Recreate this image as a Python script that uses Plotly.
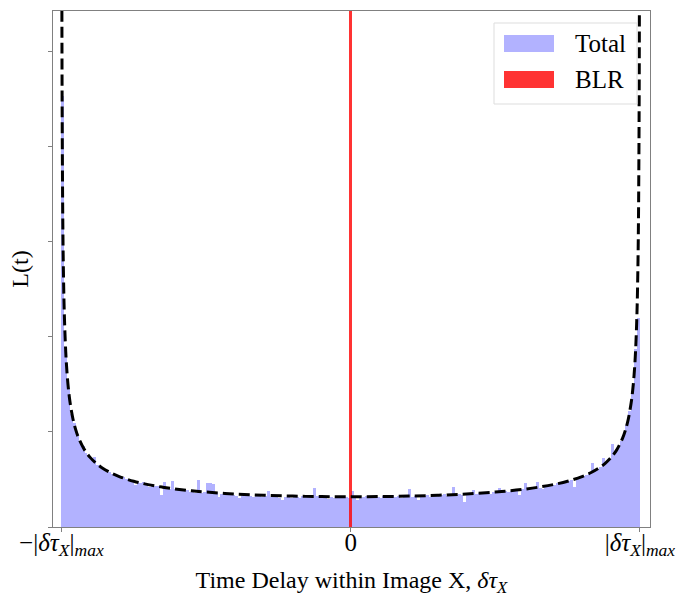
import numpy as np
import plotly.graph_objects as go

# ---- data ----
bin_lo, bin_hi, n_bins = -1.0, 1.0, 200
total_density = [
    4.54, 1.86, 1.46, 1.19, 1.09, 0.96, 0.90, 0.85, 0.78, 0.76,
    0.71, 0.74, 0.65, 0.63, 0.62, 0.59, 0.58, 0.56, 0.55, 0.54,
    0.52, 0.53, 0.50, 0.51, 0.48, 0.44, 0.47, 0.46, 0.47, 0.44,
    0.42, 0.44, 0.43, 0.43, 0.34, 0.47, 0.41, 0.40, 0.48, 0.40,
    0.41, 0.39, 0.38, 0.39, 0.37, 0.38, 0.36, 0.49, 0.36, 0.37,
    0.46, 0.46, 0.45, 0.36, 0.32, 0.35, 0.36, 0.34, 0.35, 0.34,
    0.33, 0.30, 0.34, 0.33, 0.34, 0.33, 0.32, 0.34, 0.33, 0.32,
    0.33, 0.38, 0.32, 0.33, 0.32, 0.31, 0.28, 0.32, 0.33, 0.31,
    0.33, 0.32, 0.31, 0.33, 0.32, 0.34, 0.32, 0.41, 0.33, 0.31,
    0.32, 0.33, 0.29, 0.32, 0.31, 0.32, 0.33, 0.31, 0.32, 0.31,
    0.38, 0.32, 0.28, 0.31, 0.32, 0.33, 0.31, 0.32, 0.33, 0.32,
    0.31, 0.33, 0.32, 0.31, 0.34, 0.32, 0.33, 0.31, 0.32, 0.33,
    0.40, 0.32, 0.33, 0.28, 0.32, 0.33, 0.34, 0.32, 0.33, 0.34,
    0.33, 0.34, 0.35, 0.33, 0.34, 0.42, 0.34, 0.35, 0.34, 0.26,
    0.35, 0.34, 0.39, 0.35, 0.36, 0.35, 0.37, 0.36, 0.35, 0.37,
    0.36, 0.41, 0.37, 0.38, 0.37, 0.38, 0.39, 0.38, 0.34, 0.40,
    0.46, 0.40, 0.41, 0.42, 0.47, 0.41, 0.40, 0.43, 0.44, 0.45,
    0.44, 0.46, 0.45, 0.47, 0.46, 0.48, 0.49, 0.42, 0.51, 0.52,
    0.54, 0.55, 0.56, 0.67, 0.59, 0.61, 0.63, 0.73, 0.68, 0.72,
    0.87, 0.80, 0.84, 0.90, 0.97, 1.07, 1.22, 1.43, 1.87, 2.20,
]
blr_delay = [0.0]
blr_density = [90.0]

curve_x = [-0.999, -0.998, -0.997, -0.995, -0.993, -0.99, -0.985, -0.98, -0.975,
           -0.97, -0.96, -0.95, -0.94, -0.92, -0.90, -0.88, -0.86, -0.83, -0.80,
           -0.75, -0.70, -0.65, -0.60, -0.55, -0.50, -0.40, -0.30, -0.20, -0.10,
           0.0, 0.10, 0.20, 0.30, 0.40, 0.50, 0.55, 0.60, 0.65, 0.70, 0.75, 0.80,
           0.83, 0.86, 0.88, 0.90, 0.92, 0.94, 0.95, 0.96, 0.97, 0.975, 0.98,
           0.985, 0.99, 0.993, 0.995, 0.997, 0.998, 0.999]
curve_y = [7.12, 5.036, 4.112, 3.187, 2.697, 2.256, 1.845, 1.600, 1.434,
           1.310, 1.137, 1.019, 0.933, 0.812, 0.730, 0.670, 0.624, 0.571, 0.531,
           0.481, 0.446, 0.419, 0.398, 0.381, 0.368, 0.347, 0.334, 0.325, 0.320,
           0.318, 0.320, 0.325, 0.334, 0.347, 0.368, 0.381, 0.398, 0.419, 0.446,
           0.481, 0.531, 0.571, 0.624, 0.670, 0.730, 0.812, 0.933, 1.019, 1.137,
           1.310, 1.434, 1.600, 1.845, 2.256, 2.697, 3.187, 4.112, 5.036, 7.12]

tick_vals = [-1.0, 0.0, 1.0]
tick_text = ["−|<i>δτ<sub>X</sub></i>|<sub><i>max</i></sub>", "0",
             "|<i>δτ<sub>X</sub></i>|<sub><i>max</i></sub>"]
legend_labels = ["Total", "BLR"]

# ---- figure ----
FONT = "Liberation Serif"
blue = "rgba(0,0,255,0.3)"
red = "rgba(255,0,0,0.8)"

edges = np.linspace(bin_lo, bin_hi, n_bins + 1)
centers = 0.5 * (edges[:-1] + edges[1:])
width = edges[1] - edges[0]

fig = go.Figure()
fig.add_trace(go.Bar(x=centers, y=total_density, width=width,
                     marker=dict(color=blue, line=dict(width=0)),
                     name=legend_labels[0], showlegend=False))
fig.add_trace(go.Bar(x=blr_delay, y=blr_density, width=width,
                     marker=dict(color=red, line=dict(width=0)),
                     name=legend_labels[1], showlegend=False))
fig.add_trace(go.Scatter(x=curve_x, y=curve_y, mode="lines",
                         line=dict(color="black", width=3, dash="11px,5px", shape="spline"),
                         showlegend=False))

L, R, T, B = 53, 26, 11, 70
W, H = 676, 597

fig.update_layout(
    width=W, height=H,
    margin=dict(l=L, r=R, t=T, b=B, pad=0),
    barmode="overlay", bargap=0,
    plot_bgcolor="white", paper_bgcolor="white",
    font=dict(family=FONT, size=22, color="black"),
    xaxis=dict(range=[-1.029, 1.035], tickvals=tick_vals, ticktext=tick_text,
               ticks="outside", ticklen=4, tickcolor="#808080", automargin=False,
               ticklabelstandoff=-11,
               showline=True, linecolor="#808080", linewidth=1, mirror=True,
               showgrid=False, zeroline=False,
               tickfont=dict(family=FONT, size=25),
               title=dict(text="Time Delay within Image X, <i>δτ<sub>X</sub></i>",
                          font=dict(family=FONT, size=24), standoff=12)),
    yaxis=dict(range=[0, 5.43], tickvals=[0, 1, 2, 3, 4, 5], showticklabels=False,
               ticks="outside", ticklen=4, tickcolor="#808080", automargin=False,
               showline=True, linecolor="#808080", linewidth=1, mirror=True,
               showgrid=False, zeroline=False,
               title=dict(text="L(t)", font=dict(family=FONT, size=24), standoff=12)),
)

# manual legend (matplotlib style)
pw, ph = W - L - R, H - T - B
def px(x):
    return (x - L) / pw
def py(y):
    return (H - B - y) / ph

fig.add_shape(type="rect", xref="paper", yref="paper",
              x0=px(494), x1=px(637), y0=py(104), y1=py(23),
              line=dict(color="#dddddd", width=1), fillcolor="rgba(255,255,255,0.8)",
              layer="above")
for i, (lab, col) in enumerate(zip(legend_labels, [blue, red])):
    yt, yb = [(35, 52), (71, 88)][i]
    fig.add_shape(type="rect", xref="paper", yref="paper",
                  x0=px(504), x1=px(554), y0=py(yb), y1=py(yt),
                  line=dict(width=0), fillcolor=col, layer="above")
    fig.add_annotation(xref="paper", yref="paper", x=px(573), y=py((yt + yb) / 2),
                       text=lab, showarrow=False, xanchor="left", yanchor="middle",
                       font=dict(family=FONT, size=25, color="black"))

fig.write_html("out.html")
